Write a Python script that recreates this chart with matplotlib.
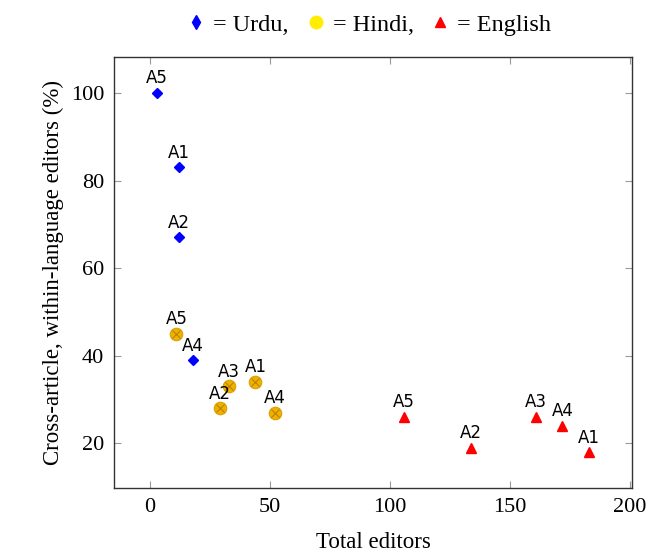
import matplotlib.pyplot as plt
from matplotlib.lines import Line2D

# Urdu
urdu_x = [3, 12, 12, 18]
urdu_y = [100, 83, 67, 39]
urdu_lbl = ["A5", "A1", "A2", "A4"]

# Hindi
hindi_x = [11, 33, 44, 29, 52]
hindi_y = [45, 33, 34, 28, 27]
hindi_lbl = ["A5", "A3", "A1", "A2", "A4"]

# English
eng_x = [106, 134, 161, 172, 183]
eng_y = [26, 19, 26, 24, 18]
eng_lbl = ["A5", "A2", "A3", "A4", "A1"]

plt.rcParams['font.family'] = ['Liberation Serif', 'DejaVu Serif']

fig = plt.figure(figsize=(6.49, 5.59), dpi=100)
ax = fig.add_axes([0.1757, 0.127, 0.798, 0.771])


def add_labels(xs, ys, labels):
    for x, y, t in zip(xs, ys, labels):
        ax.annotate(t, (x, y), xytext=(0, 4), textcoords="offset points",
                    ha="center", va="bottom", fontsize=12,
                    family="DejaVu Sans", color="black")


ax.plot(urdu_x, urdu_y, ls="none", marker="D", ms=5.5, color="blue")
ax.plot(hindi_x, hindi_y, ls="none", marker="o", ms=9, mfc="#f0b000",
        mec="#d9a000", mew=0.8)
ax.plot(hindi_x, hindi_y, ls="none", marker="x", ms=5.5, color="#b88400",
        mew=0.8)
ax.plot(eng_x, eng_y, ls="none", marker="^", ms=7.5, color="red")

add_labels(urdu_x, urdu_y, urdu_lbl)
add_labels(hindi_x, hindi_y, hindi_lbl)
add_labels(eng_x, eng_y, eng_lbl)

ax.set_xlim(-15, 201)
ax.set_ylim(9.8, 108.2)
ax.set_xticks([0, 50, 100, 150, 200])
ax.set_yticks([20, 40, 60, 80, 100])
ax.tick_params(direction="in", top=True, right=True, length=5,
               color="#999999", labelsize=16, pad=7)
for s in ax.spines.values():
    s.set_color("#333333")
    s.set_linewidth(1.0)

ax.set_xlabel("Total editors", fontsize=16.5, labelpad=11)
ax.set_ylabel("Cross-article, within-language editors (%)", fontsize=16.5,
              labelpad=5)

handles = [
    Line2D([], [], ls="none", marker="d", ms=7.5, color="blue"),
    Line2D([], [], ls="none", marker="o", ms=9, color="#ffee00"),
    Line2D([], [], ls="none", marker="^", ms=7.5, color="red"),
]
fig.legend(handles, ["= Urdu,", "= Hindi,", "= English"], loc="upper center",
           bbox_to_anchor=(0.565, 1.015), ncol=3, frameon=False, fontsize=17.5,
           handletextpad=0.1, columnspacing=0.5, handlelength=1.2)

fig.savefig("out.png", dpi=100)
